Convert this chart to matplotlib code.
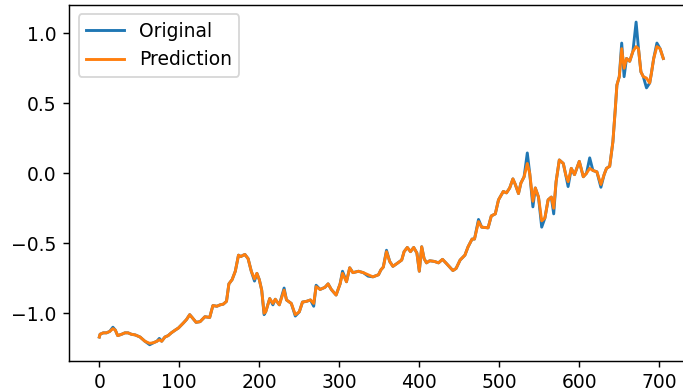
#!/usr/bin/env python3
"""
Original vs predicted series (normalised) over the test window
"""

import matplotlib
matplotlib.use('Agg')
import matplotlib.pyplot as plt

# sample index of each reading
steps = [0, 1, 5, 9, 13, 17, 20, 23, 28, 32, 36, 40, 45, 51, 57, 63, 68, 72, 75, 78,
         82, 86, 90, 95, 99, 105, 109, 113, 116, 121, 126, 132, 138, 142, 147, 151, 155, 159, 162, 166,
         170, 174, 177, 180, 182, 186, 190, 194, 197, 200, 203, 206, 208, 213, 217, 220, 225, 231, 234, 240,
         245, 250, 254, 259, 264, 268, 271, 276, 282, 286, 290, 296, 301, 304, 309, 313, 317, 324, 330, 336,
         342, 349, 352, 355, 359, 363, 367, 372, 378, 381, 385, 389, 393, 397, 400, 403, 406, 409, 413, 419,
         424, 429, 434, 442, 446, 451, 457, 461, 466, 469, 474, 478, 486, 490, 495, 499, 505, 509, 513, 517,
         520, 524, 527, 531, 535, 538, 542, 545, 549, 553, 557, 561, 565, 568, 571, 575, 580, 583, 586, 590,
         594, 600, 605, 609, 613, 617, 622, 627, 631, 634, 638, 642, 645, 647, 650, 653, 656, 659, 663, 667,
         671, 674, 677, 680, 684, 688, 690, 693, 697, 701, 705]

original = [-1.17, -1.15, -1.14, -1.14, -1.13, -1.10, -1.12, -1.16, -1.15, -1.14, -1.14, -1.15, -1.155, -1.17, -1.20, -1.225, -1.21, -1.20, -1.18, -1.20,
            -1.17, -1.16, -1.14, -1.12, -1.105, -1.07, -1.045, -1.01, -1.03, -1.065, -1.06, -1.025, -1.03, -0.945, -0.95, -0.94, -0.935, -0.915, -0.79, -0.76,
            -0.70, -0.585, -0.595, -0.585, -0.58, -0.61, -0.70, -0.77, -0.715, -0.76, -0.835, -1.01, -0.99, -0.895, -0.94, -0.90, -0.94, -0.82, -0.905, -0.93,
            -1.02, -0.99, -0.92, -0.915, -0.905, -0.95, -0.80, -0.83, -0.815, -0.79, -0.83, -0.87, -0.79, -0.70, -0.775, -0.675, -0.71, -0.70, -0.71, -0.735,
            -0.74, -0.725, -0.69, -0.67, -0.55, -0.63, -0.665, -0.645, -0.62, -0.56, -0.53, -0.56, -0.53, -0.57, -0.70, -0.525, -0.61, -0.64, -0.625, -0.63,
            -0.64, -0.615, -0.645, -0.695, -0.68, -0.62, -0.585, -0.525, -0.47, -0.47, -0.33, -0.385, -0.39, -0.305, -0.29, -0.19, -0.13, -0.14, -0.105, -0.04,
            -0.08, -0.145, -0.07, -0.025, 0.145, 0.0, -0.24, -0.105, -0.17, -0.385, -0.32, -0.19, -0.17, -0.29, -0.06, 0.095, 0.07, -0.01, -0.095, 0.035,
            -0.01, 0.085, -0.025, 0.0, 0.11, 0.02, 0.01, -0.10, -0.01, 0.035, 0.05, 0.225, 0.46, 0.63, 0.69, 0.93, 0.69, 0.82, 0.80, 0.87,
            1.08, 0.89, 0.725, 0.69, 0.61, 0.645, 0.71, 0.82, 0.93, 0.89, 0.82]

prediction = [-1.17, -1.15, -1.14, -1.14, -1.13, -1.11, -1.12, -1.16, -1.15, -1.14, -1.14, -1.15, -1.155, -1.17, -1.20, -1.215, -1.21, -1.20, -1.19, -1.20,
              -1.17, -1.16, -1.14, -1.12, -1.105, -1.07, -1.045, -1.01, -1.03, -1.065, -1.06, -1.025, -1.03, -0.945, -0.95, -0.94, -0.935, -0.915, -0.79, -0.76,
              -0.70, -0.585, -0.595, -0.585, -0.58, -0.61, -0.70, -0.755, -0.715, -0.76, -0.835, -1.00, -0.99, -0.895, -0.93, -0.90, -0.94, -0.835, -0.905, -0.93,
              -1.01, -0.99, -0.92, -0.915, -0.905, -0.93, -0.81, -0.83, -0.815, -0.79, -0.83, -0.87, -0.79, -0.715, -0.775, -0.675, -0.71, -0.70, -0.71, -0.725,
              -0.74, -0.725, -0.69, -0.67, -0.56, -0.63, -0.665, -0.645, -0.62, -0.56, -0.53, -0.56, -0.53, -0.57, -0.70, -0.525, -0.61, -0.64, -0.625, -0.63,
              -0.64, -0.615, -0.645, -0.695, -0.68, -0.62, -0.585, -0.525, -0.47, -0.47, -0.345, -0.385, -0.39, -0.305, -0.29, -0.19, -0.13, -0.14, -0.105, -0.04,
              -0.08, -0.145, -0.07, -0.025, 0.07, 0.0, -0.20, -0.105, -0.17, -0.34, -0.32, -0.19, -0.17, -0.25, -0.06, 0.095, 0.07, -0.01, -0.06, 0.035,
              -0.01, 0.085, -0.025, 0.0, 0.035, 0.02, 0.01, -0.08, -0.01, 0.035, 0.05, 0.225, 0.46, 0.63, 0.69, 0.89, 0.75, 0.82, 0.80, 0.87,
              0.905, 0.89, 0.725, 0.69, 0.68, 0.645, 0.71, 0.82, 0.905, 0.89, 0.82]

plt.rcParams['font.size'] = 10.4

fig = plt.figure(figsize=(683 / 130, 391 / 130), dpi=130)
# axes run past the right edge of the picture, like the cropped original
ax = fig.add_axes([69.3 / 683, 30.3 / 391, 619.6 / 683, 355.7 / 391])

ax.plot(steps, original, label='Original', linewidth=1.6)
ax.plot(steps, prediction, label='Prediction', linewidth=1.6)

ax.set_xlim(-37.5, 737)
ax.set_ylim(-1.339, 1.202)
ax.set_xticks([0, 100, 200, 300, 400, 500, 600, 700])
ax.set_yticks([-1.0, -0.5, 0.0, 0.5, 1.0])
ax.legend(loc='upper left')

plt.savefig('out.png', dpi=130)
